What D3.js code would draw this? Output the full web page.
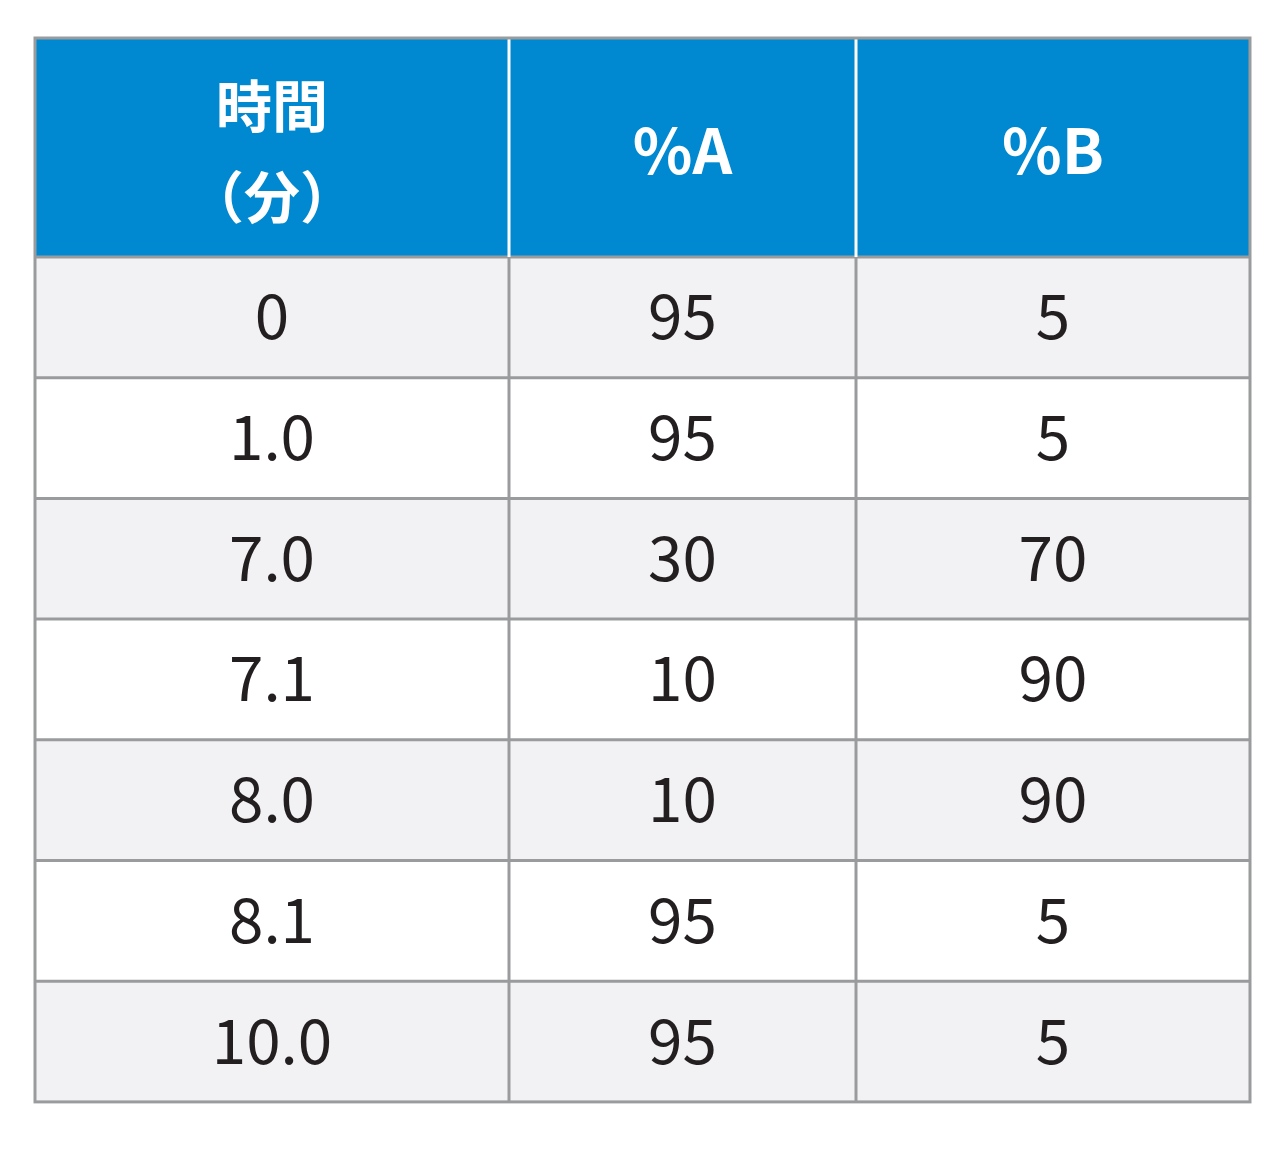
<!DOCTYPE html>
<html>
<head>
<meta charset="utf-8">
<script src="https://d3js.org/d3.v7.min.js"></script>
<style>body{margin:0;background:#fff}</style>
</head>
<body>
<div id="chart"></div>
<script>
  const headers = [["時間", "（分）"], ["%A"], ["%B"]];
  const times = ["0", "1.0", "7.0", "7.1", "8.0", "8.1", "10.0"];
  const pctA = ["95", "95", "30", "10", "10", "95", "95"];
  const pctB = ["5", "5", "70", "90", "90", "5", "5"];

  const svg = d3.select("#chart").append("svg")
    .attr("width", 1280).attr("height", 1150);

  const colEdges = [35, 509, 856, 1250];
  const headTop = 38, headBottom = 257, rowH = 120.7;
  const y = d3.scaleLinear().domain([0, times.length]).range([headBottom, headBottom + rowH * times.length]);
  const rows = times.map((t, i) => [t, pctA[i], pctB[i]]);
  const font = "'Noto Sans CJK JP', 'Noto Sans', sans-serif";

  // header
  svg.append("rect").attr("x", colEdges[0]).attr("y", headTop)
    .attr("width", colEdges[3] - colEdges[0]).attr("height", headBottom - headTop)
    .attr("fill", "#0089d0");

  headers.forEach((h, c) => {
    const cx = (colEdges[c] + colEdges[c + 1]) / 2;
    const t = svg.append("text").attr("x", cx).attr("text-anchor", "middle")
      .attr("fill", "#fff").style("font-family", font).style("font-weight", "bold")
      .style("font-size", h.length > 1 ? "56px" : "62px");
    if (h.length > 1) {
      t.append("tspan").attr("x", cx).attr("y", 127).text(h[0]);
      t.append("tspan").attr("x", cx).attr("y", 218).text(h[1]);
    } else {
      t.attr("y", 174).text(h[0]);
    }
  });

  // body rows
  rows.forEach((r, i) => {
    svg.append("rect").attr("x", colEdges[0]).attr("y", y(i))
      .attr("width", colEdges[3] - colEdges[0]).attr("height", rowH)
      .attr("fill", i % 2 === 0 ? "#f2f2f4" : "#ffffff");
    r.forEach((v, c) => {
      svg.append("text")
        .attr("x", (colEdges[c] + colEdges[c + 1]) / 2)
        .attr("y", y(i) + rowH / 2 + 22)
        .attr("text-anchor", "middle")
        .attr("fill", "#231f20")
        .style("font-family", font).style("font-size", "62px")
        .text(v);
    });
  });

  // grid lines
  const bottom = y(times.length);
  d3.range(times.length).forEach(i => {
    svg.append("line").attr("x1", colEdges[0]).attr("x2", colEdges[3])
      .attr("y1", y(i)).attr("y2", y(i))
      .attr("stroke", "#9a9b9d").attr("stroke-width", 3);
  });
  colEdges.slice(1, 3).forEach(x => {
    svg.append("line").attr("x1", x).attr("x2", x).attr("y1", headTop).attr("y2", headBottom)
      .attr("stroke", "#fff").attr("stroke-width", 3);
    svg.append("line").attr("x1", x).attr("x2", x).attr("y1", headBottom).attr("y2", bottom)
      .attr("stroke", "#9a9b9d").attr("stroke-width", 3);
  });
  svg.append("rect").attr("x", colEdges[0]).attr("y", headTop)
    .attr("width", colEdges[3] - colEdges[0]).attr("height", bottom - headTop)
    .attr("fill", "none").attr("stroke", "#9a9b9d").attr("stroke-width", 3);
</script>
</body>
</html>
